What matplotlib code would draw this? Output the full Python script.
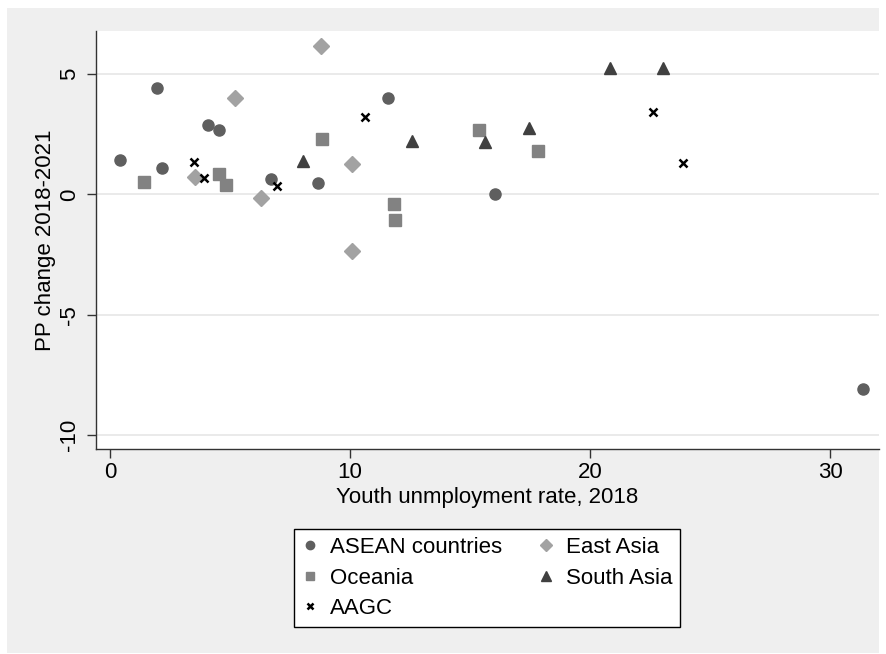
import matplotlib.pyplot as plt
from matplotlib.patches import Rectangle

plt.rcParams['font.family'] = ['Liberation Sans', 'DejaVu Sans']
plt.rcParams['axes.unicode_minus'] = False

# youth unemployment rate 2018 (x) and pp change 2018-2021 (y) by group
asean_x = [0.42, 1.97, 2.19, 4.10, 4.54, 6.71, 8.65, 11.60, 16.04, 31.39]
asean_y = [1.43, 4.43, 1.11, 2.88, 2.67, 0.62, 0.47, 3.99, 0.00, -8.07]

oceania_x = [1.43, 4.54, 4.85, 8.85, 11.82, 11.89, 15.39, 17.85]
oceania_y = [0.51, 0.83, 0.39, 2.29, -0.40, -1.07, 2.67, 1.81]

aagc_x = [3.50, 3.93, 6.94, 10.64, 22.61, 23.89]
aagc_y = [1.33, 0.67, 0.36, 3.20, 3.43, 1.31]

east_x = [3.54, 5.21, 6.28, 8.78, 10.10, 10.10]
east_y = [0.73, 3.99, -0.14, 6.17, 1.25, -2.36]

south_x = [8.06, 12.57, 15.63, 17.47, 20.83, 23.05]
south_y = [1.40, 2.22, 2.16, 2.77, 5.24, 5.24]

xticks = [0, 10, 20, 30]
yticks = [-10, -5, 0, 5]

fig = plt.figure(figsize=(8.87, 6.54), dpi=100, facecolor='white')
# light grey graph region behind everything
fig.patches.append(Rectangle((7 / 887, 1 - 653 / 654), 872 / 887, 645 / 654,
                             transform=fig.transFigure, facecolor='#efefef',
                             edgecolor='none', zorder=-10))

ax = fig.add_axes([96 / 887, 1 - 449 / 654, 783 / 887, 418 / 654])
ax.set_facecolor('white')

ms = 8
ax.plot(asean_x, asean_y, 'o', color='#5f5f5f', ms=ms, mec='#5f5f5f', label='ASEAN countries', zorder=3)
ax.plot(oceania_x, oceania_y, 's', color='#828282', ms=ms, mec='#828282', label='Oceania', zorder=3)
ax.plot(aagc_x, aagc_y, 'x', color='black', ms=6, mew=1.8, label='AAGC', zorder=4)
ax.plot(east_x, east_y, 'D', color='#a2a2a2', ms=ms, mec='#a2a2a2', label='East Asia', zorder=3)
ax.plot(south_x, south_y, '^', color='#404040', ms=9, mec='#404040', label='South Asia', zorder=3)

ax.set_xlim(-0.58, 32.04)
ax.set_ylim(-10.57, 6.78)
ax.set_xticks(xticks)
ax.set_yticks(yticks)
ax.grid(axis='y', color='#e6e6e6', lw=1.2)
ax.set_axisbelow(True)

for s in ['top', 'right']:
    ax.spines[s].set_visible(False)
for s in ['left', 'bottom']:
    ax.spines[s].set_color('#333333')
    ax.spines[s].set_linewidth(1.0)

ax.tick_params(axis='both', length=6.5, width=1.0, color='#333333', labelsize=16)
ax.tick_params(axis='x', pad=3)
ax.tick_params(axis='y', pad=5, labelrotation=90)
for lab in ax.get_yticklabels():
    lab.set_va('center')

ax.set_xlabel('Youth unmployment rate, 2018', fontsize=16, labelpad=3)
ax.set_ylabel('PP change 2018-2021', fontsize=16, labelpad=2)

leg = fig.legend(loc='center', bbox_to_anchor=(487 / 887, 1 - 578 / 654), ncol=2,
                 fontsize=16, frameon=True, fancybox=False, framealpha=1,
                 markerscale=0.75, handlelength=0.8, handletextpad=0.48,
                 columnspacing=1.6, labelspacing=0.42, borderpad=0.35)
leg.get_frame().set_edgecolor('black')
leg.get_frame().set_linewidth(1.0)

fig.savefig('out.png', dpi=100, facecolor=fig.get_facecolor())
